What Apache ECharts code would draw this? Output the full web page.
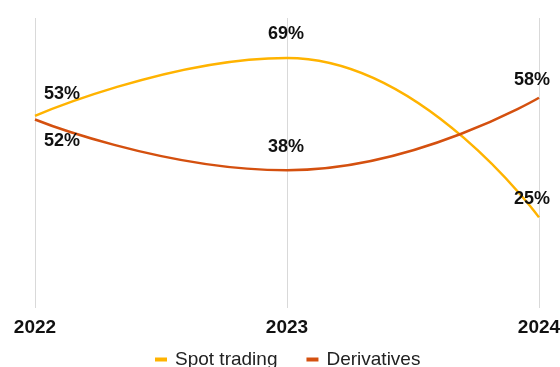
<!DOCTYPE html>
<html>
<head>
<meta charset="utf-8">
<script src="https://cdn.jsdelivr.net/npm/echarts@6/dist/echarts.min.js"></script>
<style>
  html, body { margin: 0; padding: 0; background: #fff; }
  #chart { width: 560px; height: 367px; }
</style>
</head>
<body>
<div id="chart"></div>
<script>
// Share of trading volume by segment, per year
const years = ['2022', '2023', '2024'];
const spotTrading = [53, 69, 25];
const derivatives = [52, 38, 58];

// Label centre offsets [dx, dy] from each point, so labels clear the lines
const spotLabelOffsets = [[27, -22], [-1, -24], [-7, -18]];
const derivLabelOffsets = [[27, 22], [-1, -23], [-7, -18]];

const FONT = '"Liberation Sans", Arial, sans-serif';

function withLabels(values, offsets) {
  return values.map((v, i) => ({
    value: v,
    label: { offset: offsets[i] }
  }));
}

const valueLabel = {
  show: true,
  position: 'inside',
  align: 'center',
  verticalAlign: 'middle',
  formatter: p => p.value + '%',
  color: '#111',
  fontFamily: FONT,
  fontSize: 18,
  fontWeight: 'bold'
};

const chart = echarts.init(document.getElementById('chart'), null, { renderer: 'canvas' });
chart.setOption({
  animation: false,
  textStyle: { fontFamily: FONT },
  grid: {
    left: 35, right: 21, top: 18, bottom: 59,
    containLabel: false,
    outerBoundsMode: 'none'
  },
  legend: {
    top: 345,
    left: 150,
    itemWidth: 12,
    itemHeight: 4,
    itemGap: 29,
    icon: 'rect',
    textStyle: { fontFamily: FONT, fontSize: 19, color: '#222', padding: [0, 0, 0, 3] },
    data: ['Spot trading', 'Derivatives']
  },
  xAxis: {
    type: 'category',
    data: years,
    boundaryGap: false,
    axisLine: { show: false },
    axisTick: { show: false },
    splitLine: { show: true, lineStyle: { color: '#d9d9d9', width: 1 } },
    axisLabel: {
      color: '#111',
      fontFamily: FONT,
      fontSize: 19,
      fontWeight: 'bold',
      margin: 10,
      hideOverlap: false,
      showMinLabel: true,
      showMaxLabel: true
    }
  },
  yAxis: {
    type: 'value',
    min: 0,
    max: 80,
    show: false,
    splitLine: { show: false }
  },
  series: [
    {
      name: 'Spot trading',
      type: 'line',
      smooth: 0.5,
      showSymbol: true,
      symbol: 'circle',
      symbolSize: 0,
      color: '#FFB300',
      lineStyle: { width: 2.5, color: '#FFB300' },
      label: valueLabel,
      data: withLabels(spotTrading, spotLabelOffsets)
    },
    {
      name: 'Derivatives',
      type: 'line',
      smooth: 0.5,
      showSymbol: true,
      symbol: 'circle',
      symbolSize: 0,
      color: '#D4500F',
      lineStyle: { width: 2.5, color: '#D4500F' },
      label: valueLabel,
      data: withLabels(derivatives, derivLabelOffsets)
    }
  ]
});
</script>
</body>
</html>
